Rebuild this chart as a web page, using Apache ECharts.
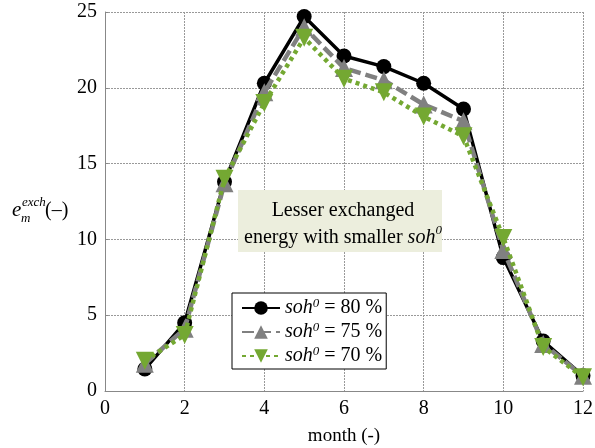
<!DOCTYPE html>
<html>
<head>
<meta charset="utf-8">
<script src="https://cdn.jsdelivr.net/npm/echarts@6/dist/echarts.min.js"></script>
<style>
  html, body { margin: 0; padding: 0; background: #fff; }
  #chart { width: 595px; height: 448px; }
</style>
</head>
<body>
<div id="chart"></div>
<script>
// months 1..12
const months = [1, 2, 3, 4, 5, 6, 7, 8, 9, 10, 11, 12];
const soh80 = [1.45, 4.5, 13.8, 20.3, 24.7, 22.1, 21.4, 20.3, 18.6, 8.8, 3.3, 1.0];
const soh75 = [1.8, 4.1, 13.7, 19.7, 24.0, 21.3, 20.5, 18.9, 17.8, 9.3, 3.1, 1.0];
const soh70 = [2.0, 3.7, 14.0, 19.0, 23.3, 20.6, 19.7, 18.1, 16.8, 10.1, 2.9, 0.9];

const serif = "'Liberation Serif', 'Times New Roman', serif";
const green = "#74a832";

function pairs(vals) {
  return months.map((m, i) => [m, vals[i]]);
}

let chart = echarts.init(document.getElementById("chart"));
let option = {
  animation: false,
  textStyle: { fontFamily: serif },
  grid: {
    left: 105,
    right: 12,
    top: 12,
    bottom: 57,
    outerBoundsMode: "none"
  },
  xAxis: {
    type: "value",
    min: 0,
    max: 12,
    interval: 2,
    name: "month (-)",
    nameLocation: "middle",
    nameGap: 36,
    nameTextStyle: { fontFamily: serif, fontSize: 19, color: "#000" },
    axisLabel: {
      fontFamily: serif,
      fontSize: 20,
      color: "#000",
      margin: 8
    },
    axisLine: { show: true, lineStyle: { color: "#888", width: 1 } },
    axisTick: { show: false },
    splitLine: { show: true, lineStyle: { color: "#999", width: 1, type: [2, 1] } }
  },
  yAxis: {
    type: "value",
    min: 0,
    max: 25,
    interval: 5,
    axisLabel: {
      fontFamily: serif,
      fontSize: 20,
      color: "#000",
      margin: 8,
      padding: [7, 0, 0, 0]
    },
    axisLine: { show: true, lineStyle: { color: "#888", width: 1 } },
    axisTick: { show: true, length: 3, inside: true, lineStyle: { color: "#888" } },
    splitLine: { show: true, lineStyle: { color: "#999", width: 1, type: [2, 1] } }
  },
  legend: {
    orient: "vertical",
    left: 232,
    top: 293,
    backgroundColor: "#fff",
    borderColor: "#000",
    borderWidth: 1,
    padding: [4, 4, 3, 9],
    itemGap: 3,
    itemWidth: 38,
    itemHeight: 17,
    formatter: function (name) {
      const pct = name.split("|")[1];
      return "{it|soh}{sup|0}{n| = " + pct + " %}";
    },
    textStyle: {
      fontFamily: serif,
      fontSize: 20,
      color: "#000",
      rich: {
        it: { fontFamily: serif, fontSize: 20, fontStyle: "italic", color: "#000" },
        sup: { fontFamily: serif, fontSize: 13, fontStyle: "italic", color: "#000", verticalAlign: "top", padding: [0, 0, 9, 0] },
        n: { fontFamily: serif, fontSize: 20, color: "#000" }
      }
    }
  },
  graphic: [
    {
      type: "rect",
      left: 238,
      top: 190,
      z: 100,
      shape: { width: 204, height: 62 },
      style: { fill: "#eceedd" }
    },
    {
      type: "text",
      x: 343,
      y: 197,
      z: 101,
      style: {
        text: "Lesser exchanged\n{n|energy with smaller }{i|soh}{s|0}",
        fontFamily: serif,
        fontSize: 20,
        fill: "#000",
        align: "center",
        verticalAlign: "top",
        lineHeight: 27,
        rich: {
          n: { fontFamily: serif, fontSize: 20, fill: "#000" },
          i: { fontFamily: serif, fontSize: 20, fontStyle: "italic", fill: "#000" },
          s: { fontFamily: serif, fontSize: 13, fontStyle: "italic", fill: "#000", verticalAlign: "top", padding: [0, 0, 9, 0] }
        }
      }
    },
    {
      type: "text",
      x: 12,
      y: 210,
      style: { text: "e", fontFamily: serif, fontSize: 21, fontStyle: "italic", fill: "#000", verticalAlign: "middle" }
    },
    {
      type: "text",
      x: 22,
      y: 203,
      style: { text: "exch", fontFamily: serif, fontSize: 13, fontStyle: "italic", fill: "#000", verticalAlign: "middle" }
    },
    {
      type: "text",
      x: 21,
      y: 219,
      style: { text: "m", fontFamily: serif, fontSize: 13, fontStyle: "italic", fill: "#000", verticalAlign: "middle" }
    },
    {
      type: "text",
      x: 45,
      y: 211,
      style: { text: "(\u2013)", fontFamily: serif, fontSize: 20, fill: "#000", verticalAlign: "middle" }
    }
  ],
  series: [
    {
      name: "soh|80",
      type: "line",
      data: pairs(soh80),
      symbol: "circle",
      symbolSize: 15,
      z: 3,
      itemStyle: { color: "#000" },
      lineStyle: { color: "#000", width: 3.5, type: "solid" }
    },
    {
      name: "soh|75",
      type: "line",
      data: pairs(soh75),
      symbol: "triangle",
      symbolSize: 18,
      z: 4,
      itemStyle: { color: "#808080" },
      lineStyle: { color: "#808080", width: 4.5, type: [12, 5] }
    },
    {
      name: "soh|70",
      type: "line",
      data: pairs(soh70),
      symbol: "triangle",
      symbolRotate: 180,
      symbolSize: 18,
      z: 5,
      itemStyle: { color: green },
      lineStyle: { color: green, width: 4.5, type: [4, 4] }
    }
  ]
};
chart.setOption(option);
</script>
</body>
</html>
